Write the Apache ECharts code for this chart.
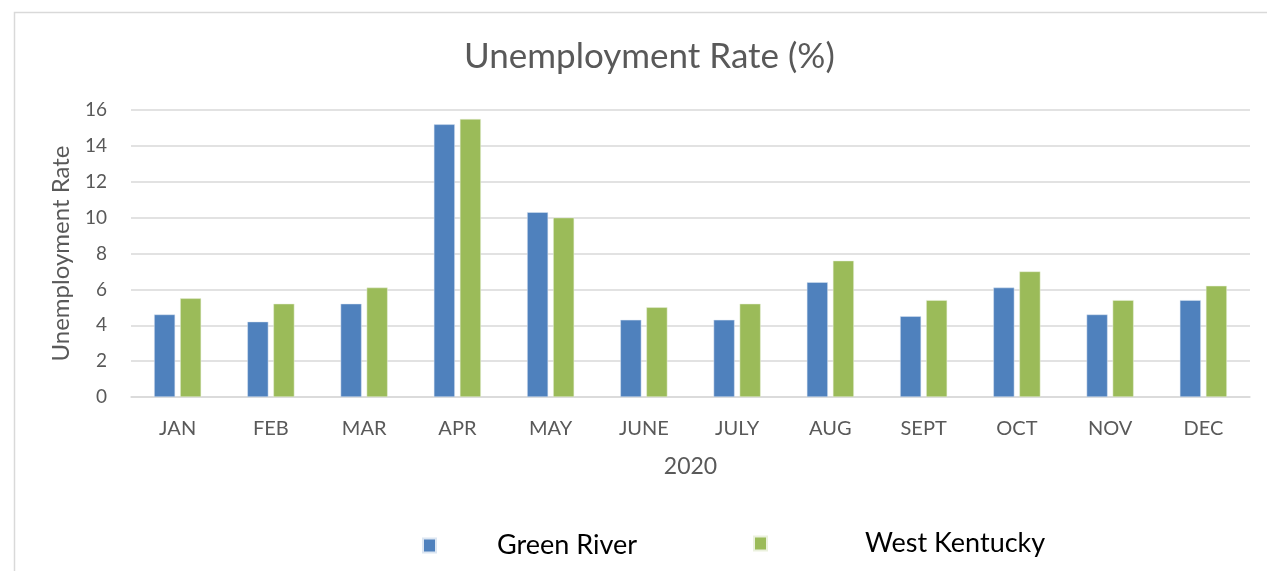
<!DOCTYPE html>
<html>
<head>
<meta charset="utf-8">
<script src="https://cdn.jsdelivr.net/npm/echarts@6/dist/echarts.min.js"></script>
<style>
html,body{margin:0;padding:0;background:#fff;}
#c{width:1267px;height:571px;}
</style>
</head>
<body>
<div id="c"></div>
<script>
const months = ['JAN','FEB','MAR','APR','MAY','JUNE','JULY','AUG','SEPT','OCT','NOV','DEC'];
const greenRiver = [4.6,4.2,5.2,15.2,10.3,4.3,4.3,6.4,4.5,6.1,4.6,5.4];
const westKentucky = [5.5,5.2,6.1,15.5,10.0,5.0,5.2,7.6,5.4,7.0,5.4,6.2];
const yTicks = {min:0, max:16, interval:2};

const FONT = 'Lato';
const chart = echarts.init(document.getElementById('c'));
const legendText = (pad) => ({fontFamily:FONT,fontSize:27,color:'#000',padding:[0,0,0,pad]});
chart.setOption({
  animation:false,
  backgroundColor:'#fff',
  textStyle:{fontFamily:FONT},
  title:{
    text:'Unemployment Rate (%)',
    left:459, top:34,
    textStyle:{fontFamily:FONT,fontSize:35,fontWeight:'normal',color:'#595959'}
  },
  graphic:[{
    type:'rect', left:12, top:10,
    shape:{width:1300,height:600},
    style:{fill:'none',stroke:'#d9d9d9',lineWidth:1.5},
    silent:true, z:-1
  }],
  legend:[{
    top:532, left:422, padding:0,
    itemWidth:13, itemHeight:14,
    icon:'rect',
    textStyle:legendText(56),
    data:['Green River']
  },{
    top:530, left:753, padding:0,
    itemWidth:13, itemHeight:14,
    icon:'rect',
    textStyle:legendText(93),
    data:['West Kentucky']
  }],
  grid:{left:131,right:17,top:110,bottom:174},
  xAxis:{
    type:'category',
    data:months,
    axisLine:{lineStyle:{color:'#d9d9d9',width:1.5}},
    axisTick:{show:false},
    axisLabel:{fontFamily:FONT,fontSize:20,color:'#595959',margin:22},
    name:'2020', nameLocation:'middle', nameGap:58,
    nameTextStyle:{fontFamily:FONT,fontSize:23,color:'#595959'}
  },
  yAxis:{
    type:'value',
    min:yTicks.min, max:yTicks.max, interval:yTicks.interval,
    axisLine:{show:false},
    axisTick:{show:false},
    axisLabel:{fontFamily:FONT,fontSize:19,color:'#595959',margin:24},
    splitLine:{lineStyle:{color:'#d9d9d9',width:1.5}},
    name:'Unemployment Rate', nameLocation:'middle', nameGap:58, nameRotate:90,
    nameTextStyle:{fontFamily:FONT,fontSize:24,color:'#595959'}
  },
  series:[
    {name:'Green River',type:'bar',data:greenRiver,barWidth:21,barGap:'24%',
     itemStyle:{color:'#4f81bd',borderColor:'#dce6f2',borderWidth:0.5}},
    {name:'West Kentucky',type:'bar',data:westKentucky,barWidth:21,
     itemStyle:{color:'#9bbb59',borderColor:'#ebf1de',borderWidth:0.5}}
  ]
});
</script>
</body>
</html>
